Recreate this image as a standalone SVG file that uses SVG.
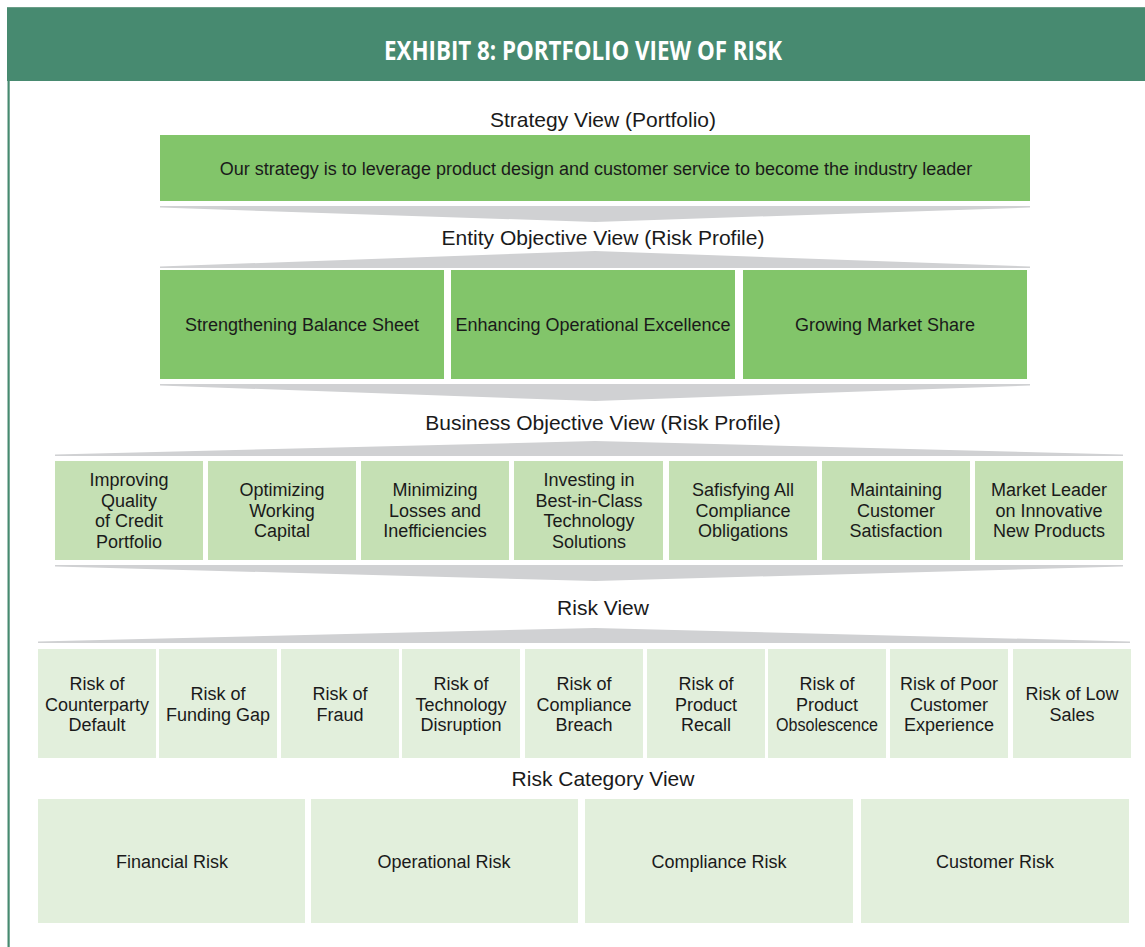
<svg xmlns="http://www.w3.org/2000/svg" width="1145" height="947" viewBox="0 0 1145 947">
<style>
.hdr{fill:#478a70}
.t{font-family:"Liberation Sans",Arial,sans-serif;fill:#1a1a1a;text-anchor:middle}
.lbl{font-size:21px}
.bx{font-size:18px}
.dk{fill:#82c56a}
.md{fill:#c5e0b4}
.lt{fill:#e2efdc}
.band{fill:#d0d1d3}
</style>
<rect x="0" y="0" width="1145" height="947" fill="#ffffff"/>
<g id="frame">
<rect class="hdr" x="7" y="7" width="1138" height="74"/>
<line x1="7" y1="7.5" x2="1145" y2="7.5" stroke="#6a9e88" stroke-width="1"/>
<rect class="hdr" x="7.5" y="80" width="2.2" height="867"/>
<text x="583" y="60" font-family="Open Sans,'Liberation Sans',sans-serif" font-weight="bold" font-size="26" fill="#ffffff" text-anchor="middle" textLength="398" lengthAdjust="spacingAndGlyphs">EXHIBIT 8: PORTFOLIO VIEW OF RISK</text>
</g>
<g id="labels">
<text class="t lbl" x="603" y="127">Strategy View (Portfolio)</text>
<text class="t lbl" x="603" y="245">Entity Objective View (Risk Profile)</text>
<text class="t lbl" x="603" y="430">Business Objective View (Risk Profile)</text>
<text class="t lbl" x="603" y="615">Risk View</text>
<text class="t lbl" x="603" y="786">Risk Category View</text>
</g>
<g id="connectors">
<polygon class="band" points="160,206 1030,206 1030,207.5 595,222 160,207.5"/>
<polygon class="band" points="160,268 1030,268 1030,266.5 595,251 160,266.5"/>
<polygon class="band" points="160,384 1030,384 1030,385.5 595,401 160,385.5"/>
<polygon class="band" points="55,456 1123,456 1123,454.5 595,441 55,454.5"/>
<polygon class="band" points="55,565 1123,565 1123,566.5 595,581 55,566.5"/>
<polygon class="band" points="38,643 1130,643 1130,641.5 595,628 38,641.5"/>
</g>
<g id="strategy">
<rect class="dk" x="160" y="135" width="870" height="66"/>
<text class="t bx" x="596" y="175">Our strategy is to leverage product design and customer service to become the industry leader</text>
</g>
<g id="entity1"><rect class="dk" x="160" y="270" width="284" height="109"/><text class="t bx" x="302" y="331">Strengthening Balance Sheet</text></g>
<g id="entity2"><rect class="dk" x="451" y="270" width="284" height="109"/><text class="t bx" x="593" y="331">Enhancing Operational Excellence</text></g>
<g id="entity3"><rect class="dk" x="743" y="270" width="284" height="109"/><text class="t bx" x="885" y="331">Growing Market Share</text></g>

<g id="bus1"><rect class="md" x="55" y="461" width="148" height="99"/><text class="t bx" x="129" y="486">Improving<tspan x="129" dy="20.5">Quality</tspan><tspan x="129" dy="20.5">of Credit</tspan><tspan x="129" dy="20.5">Portfolio</tspan></text></g>
<g id="bus2"><rect class="md" x="208" y="461" width="148" height="99"/><text class="t bx" x="282" y="496">Optimizing<tspan x="282" dy="20.5">Working</tspan><tspan x="282" dy="20.5">Capital</tspan></text></g>
<g id="bus3"><rect class="md" x="361" y="461" width="148" height="99"/><text class="t bx" x="435" y="496">Minimizing<tspan x="435" dy="20.5">Losses and</tspan><tspan x="435" dy="20.5">Inefficiencies</tspan></text></g>
<g id="bus4"><rect class="md" x="514" y="461" width="149" height="99"/><text class="t bx" x="589" y="486">Investing in<tspan x="589" dy="20.5">Best-in-Class</tspan><tspan x="589" dy="20.5">Technology</tspan><tspan x="589" dy="20.5">Solutions</tspan></text></g>
<g id="bus5"><rect class="md" x="669" y="461" width="148" height="99"/><text class="t bx" x="743" y="496">Safisfying All<tspan x="743" dy="20.5">Compliance</tspan><tspan x="743" dy="20.5">Obligations</tspan></text></g>
<g id="bus6"><rect class="md" x="822" y="461" width="148" height="99"/><text class="t bx" x="896" y="496">Maintaining<tspan x="896" dy="20.5">Customer</tspan><tspan x="896" dy="20.5">Satisfaction</tspan></text></g>
<g id="bus7"><rect class="md" x="975" y="461" width="148" height="99"/><text class="t bx" x="1049" y="496">Market Leader<tspan x="1049" dy="20.5">on Innovative</tspan><tspan x="1049" dy="20.5">New Products</tspan></text></g>

<g id="risk1"><rect class="lt" x="38" y="649" width="118" height="109"/><text class="t bx" x="97" y="690">Risk of<tspan x="97" dy="20.5">Counterparty</tspan><tspan x="97" dy="20.5">Default</tspan></text></g>
<g id="risk2"><rect class="lt" x="159" y="649" width="118" height="109"/><text class="t bx" x="218" y="700">Risk of<tspan x="218" dy="20.5">Funding Gap</tspan></text></g>
<g id="risk3"><rect class="lt" x="281" y="649" width="118" height="109"/><text class="t bx" x="340" y="700">Risk of<tspan x="340" dy="20.5">Fraud</tspan></text></g>
<g id="risk4"><rect class="lt" x="402" y="649" width="118" height="109"/><text class="t bx" x="461" y="690">Risk of<tspan x="461" dy="20.5">Technology</tspan><tspan x="461" dy="20.5">Disruption</tspan></text></g>
<g id="risk5"><rect class="lt" x="525" y="649" width="118" height="109"/><text class="t bx" x="584" y="690">Risk of<tspan x="584" dy="20.5">Compliance</tspan><tspan x="584" dy="20.5">Breach</tspan></text></g>
<g id="risk6"><rect class="lt" x="647" y="649" width="118" height="109"/><text class="t bx" x="706" y="690">Risk of<tspan x="706" dy="20.5">Product</tspan><tspan x="706" dy="20.5">Recall</tspan></text></g>
<g id="risk7"><rect class="lt" x="768" y="649" width="118" height="109"/><text class="t bx" x="827" y="690">Risk of<tspan x="827" dy="20.5">Product</tspan><tspan x="827" dy="20.5" textLength="102" lengthAdjust="spacingAndGlyphs">Obsolescence</tspan></text></g>
<g id="risk8"><rect class="lt" x="890" y="649" width="118" height="109"/><text class="t bx" x="949" y="690">Risk of Poor<tspan x="949" dy="20.5">Customer</tspan><tspan x="949" dy="20.5">Experience</tspan></text></g>
<g id="risk9"><rect class="lt" x="1013" y="649" width="118" height="109"/><text class="t bx" x="1072" y="700">Risk of Low<tspan x="1072" dy="20.5">Sales</tspan></text></g>

<g id="cat1"><rect class="lt" x="38" y="799" width="267" height="124"/><text class="t bx" x="172" y="868">Financial Risk</text></g>
<g id="cat2"><rect class="lt" x="311" y="799" width="267" height="124"/><text class="t bx" x="444" y="868">Operational Risk</text></g>
<g id="cat3"><rect class="lt" x="585" y="799" width="268" height="124"/><text class="t bx" x="719" y="868">Compliance Risk</text></g>
<g id="cat4"><rect class="lt" x="861" y="799" width="268" height="124"/><text class="t bx" x="995" y="868">Customer Risk</text></g>
</svg>
